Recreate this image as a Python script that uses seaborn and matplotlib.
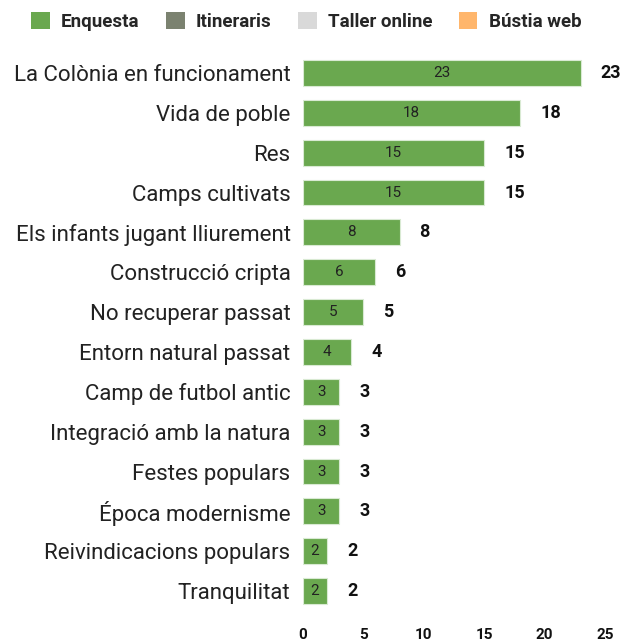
import numpy as np
import pandas as pd
import matplotlib
matplotlib.use('Agg')
import matplotlib.pyplot as plt
import seaborn as sns
from matplotlib.patches import Patch

# dades
categories = ['La Colònia en funcionament', 'Vida de poble', 'Res', 'Camps cultivats',
              'Els infants jugant lliurement', 'Construcció cripta', 'No recuperar passat',
              'Entorn natural passat', 'Camp de futbol antic', 'Integració amb la natura',
              'Festes populars', 'Época modernisme', 'Reivindicacions populars', 'Tranquilitat']
enquesta = [23, 18, 15, 15, 8, 6, 5, 4, 3, 3, 3, 3, 2, 2]
itineraris = [0] * 14
taller_online = [0] * 14
bustia_web = [0] * 14
series = ['Enquesta', 'Itineraris', 'Taller online', 'Bústia web']
colors = ['#6aa84f', '#7b8270', '#d9d9d9', '#ffb66c']
xticks = [0, 5, 10, 15, 20, 25]

sns.set_style('white')
plt.rcParams['font.family'] = ['Roboto', 'DejaVu Sans']

df = pd.DataFrame({'cat': categories, 'Enquesta': enquesta, 'Itineraris': itineraris,
                   'Taller online': taller_online, 'Bústia web': bustia_web})

fig = plt.figure(figsize=(6.25, 6.41), dpi=100)
ax = fig.add_axes([0.4848, 0.0468, 0.4832, 0.8705])

sns.barplot(data=df, y='cat', x='Enquesta', color=colors[0], width=0.65,
            edgecolor='#d9ead3', linewidth=0.8, ax=ax, saturation=1)

for i, v in enumerate(enquesta):
    ax.text(v / 2, i, str(v), ha='center', va='center', fontsize=11, color='#222222')
    ax.text(v + 1.65, i, str(v), ha='left', va='center', fontsize=13,
            fontweight='bold', color='#111111')

ax.set_xlim(0, 25)
ax.set_ylim(13.5, -0.5)
ax.set_xticks(xticks)
ax.set_xticklabels([str(t) for t in xticks], fontweight='bold', fontsize=11, color='#111111')
ax.tick_params(axis='x', length=0, pad=12)
ax.tick_params(axis='y', length=0, pad=9, labelsize=16, labelcolor='#222222')
ax.set_xlabel('')
ax.set_ylabel('')
sns.despine(ax=ax, left=True, bottom=True)

handles = [Patch(facecolor=c, edgecolor='none', label=s) for s, c in zip(series, colors)]
fig.legend(handles=handles, loc='center', bbox_to_anchor=(0.49, 0.967), ncol=4,
           frameon=False, prop={'weight': 'bold', 'size': 13.5}, handlelength=1.0,
           handleheight=1.0, columnspacing=1.4, handletextpad=0.6)

fig.savefig('out.png', dpi=100)
